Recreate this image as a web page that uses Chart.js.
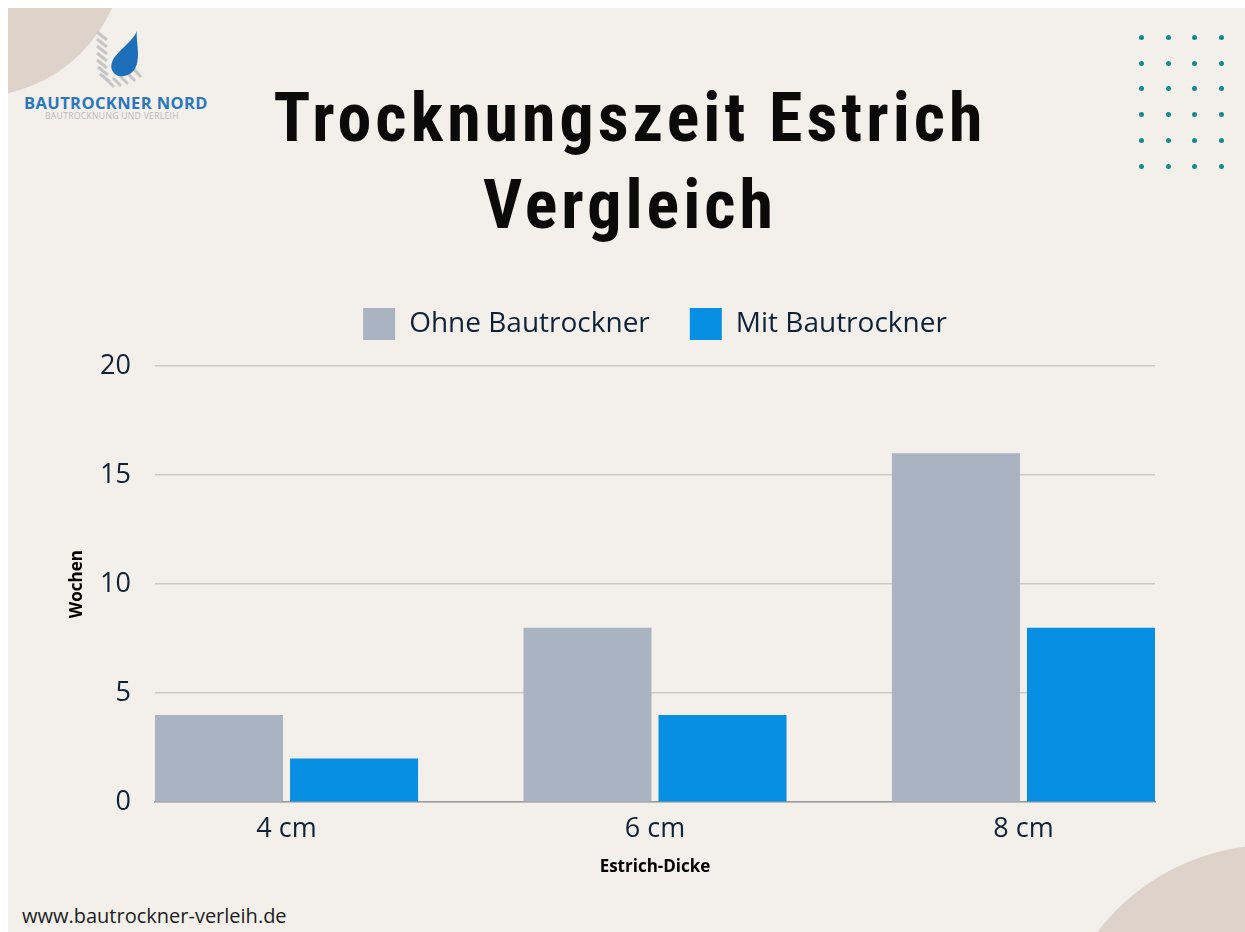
<!DOCTYPE html>
<html>
<head>
<meta charset="utf-8">
<script src="https://cdn.jsdelivr.net/npm/chart.js@4.4.1/dist/chart.umd.min.js"></script>
<style>
  html, body { margin: 0; padding: 0; background: #ffffff; }
  body { width: 1245px; height: 932px; position: relative; overflow: hidden; }
  .card { position: absolute; left: 8px; top: 8px; width: 1237px; height: 924px; background: #f3f0ec; overflow: hidden; }
  .blob { position: absolute; border-radius: 50%; background: #ddd3ca; }
  .dot { position: absolute; width: 5px; height: 5px; border-radius: 50%; background: #168b8c; }
  #title { position: absolute; left: 0; width: 1260px; top: 75px; text-align: center; font-family: "Liberation Sans Narrow", "Roboto Condensed", "DejaVu Sans Condensed", sans-serif; font-weight: 700; font-size: 68px; line-height: 87px; letter-spacing: 4px; color: #0a0a0a; }
  #brand { position: absolute; left: 24px; top: 91px; font-family: "Open Sans", sans-serif; font-weight: 700; font-size: 16.5px; letter-spacing: 0.4px; color: #2b76bc; }
  #brandSub { position: absolute; left: 45px; top: 110px; font-family: "Open Sans", sans-serif; font-size: 8.6px; letter-spacing: 0.3px; color: #b9b9b9; }
  #site { position: absolute; left: 22px; top: 902px; font-family: "Open Sans", sans-serif; font-size: 20px; color: #1c1c1c; }
  canvas { position: absolute; left: 0; top: 0; }
</style>
</head>
<body>
<div class="card" id="card">
  <div class="blob" style="left:-183px;top:-211px;width:300px;height:300px;"></div>
  <div class="blob" style="left:1044px;top:837px;width:442px;height:442px;"></div>
</div>
<svg style="position:absolute;left:90px;top:26px;" width="56" height="66" viewBox="0 0 56 66">
  <g stroke="#c6c6c6" stroke-width="3" fill="none" stroke-linecap="butt">
    <line x1="7" y1="6" x2="17" y2="14"/>
    <line x1="7" y1="13" x2="17" y2="21"/>
    <line x1="7" y1="20" x2="17" y2="28"/>
    <line x1="7" y1="27" x2="17" y2="35"/>
    <line x1="7" y1="34" x2="17" y2="42"/>
    <line x1="8" y1="41" x2="18" y2="49"/>
    <line x1="10" y1="48" x2="20" y2="56"/>
    <line x1="16" y1="53" x2="24" y2="61"/>
    <line x1="23" y1="52" x2="31" y2="60"/>
    <line x1="30" y1="50" x2="38" y2="58"/>
    <line x1="37" y1="47" x2="45" y2="55"/>
    <line x1="44" y1="43" x2="51" y2="51"/>
  </g>
  <path d="M47 5 C43 15 31 22 24 32 C17 43 25 52 34 50 C45 48 48 39 48 28 C48 19 46 11 47 5 Z" fill="#1e6fba"/>
</svg>
<div id="brand">BAUTROCKNER NORD</div>
<div id="brandSub">BAUTROCKNUNG UND VERLEIH</div>
<div id="title">Trocknungszeit Estrich<br>Vergleich</div>
<div id="site">www.bautrockner-verleih.de</div>
<canvas id="chart" width="1245" height="932"></canvas>
<script>
const categories = ['4 cm', '6 cm', '8 cm'];
const seriesNames = ['Ohne Bautrockner', 'Mit Bautrockner'];
const ohneValues = [4, 8, 16];
const mitValues = [2, 4, 8];
const yTicks = [0, 5, 10, 15, 20];

// decorative dot grid (top right)
const card = document.getElementById('card');
for (let r = 0; r < 6; r++) {
  for (let c = 0; c < 4; c++) {
    const d = document.createElement('div');
    d.className = 'dot';
    d.style.left = (1131 + c * 26.7) + 'px';
    d.style.top = (27 + r * 25.7) + 'px';
    card.appendChild(d);
  }
}

const textColor = '#102235';
// half of a bar group (outer bar edges) in category units
const halfGroup = 0.357;

const legendMargin = {
  id: 'legendMargin',
  beforeInit(chart) {
    const fit = chart.legend.fit;
    chart.legend.fit = function() {
      fit.bind(chart.legend)();
      this.height += 16;
    };
  }
};

Chart.defaults.font.family = "'Open Sans', sans-serif";

new Chart(document.getElementById('chart'), {
  type: 'bar',
  data: {
    datasets: [
      {
        label: seriesNames[0],
        data: ohneValues.map((v, i) => ({ x: i, y: v })),
        backgroundColor: '#a9b3c1'
      },
      {
        label: seriesNames[1],
        data: mitValues.map((v, i) => ({ x: i, y: v })),
        backgroundColor: '#0790e3'
      }
    ]
  },
  options: {
    responsive: false,
    animation: false,
    categoryPercentage: 0.733,
    barPercentage: 0.948,
    layout: { padding: { left: 58, right: 90, top: 268, bottom: 51 } },
    plugins: {
      legend: {
        position: 'top',
        fullSize: false,
        labels: {
          boxWidth: 32,
          boxHeight: 32,
          padding: 40,
          color: textColor,
          font: { size: 28 }
        }
      },
      tooltip: { enabled: false }
    },
    scales: {
      x: {
        type: 'linear',
        offset: false,
        bounds: 'data',
        min: -halfGroup,
        max: categories.length - 1 + halfGroup,
        afterBuildTicks: axis => { axis.ticks = categories.map((c, i) => ({ value: i })); },
        grid: { display: false, drawTicks: false, offset: false },
        border: { display: true, color: '#9c9c9c', width: 1.5 },
        ticks: {
          padding: 11,
          color: textColor,
          font: { size: 27 },
          callback: v => categories[v]
        },
        title: {
          display: true,
          text: 'Estrich-Dicke',
          color: '#000',
          font: { size: 17, weight: 'bold' },
          padding: { top: 0, bottom: 4 }
        }
      },
      y: {
        min: 0,
        max: 20,
        afterBuildTicks: axis => { axis.ticks = yTicks.map(v => ({ value: v })); },
        afterFit: axis => { axis.width = 97; },
        grid: { color: '#cdc9c4', lineWidth: 1.5, drawTicks: false },
        border: { display: false },
        ticks: {
          padding: 24,
          color: textColor,
          font: { size: 27 }
        },
        title: {
          display: true,
          text: 'Wochen',
          color: '#000',
          font: { size: 17, weight: 'bold' },
          padding: { top: 9, bottom: 0 }
        }
      }
    }
  },
  plugins: [legendMargin]
});
</script>
</body>
</html>
